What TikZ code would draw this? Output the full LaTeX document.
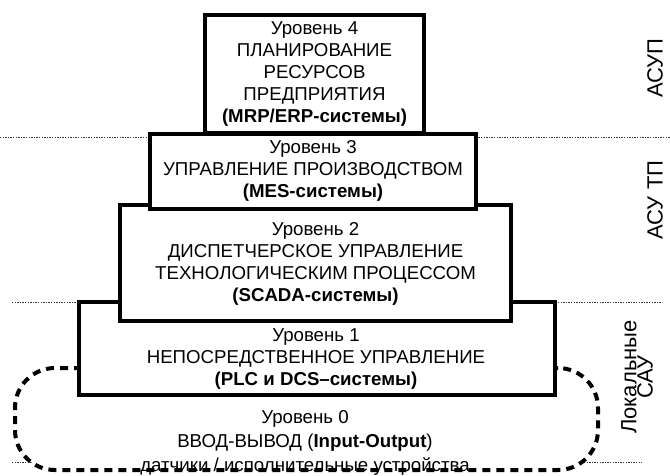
\documentclass[tikz,border=0pt]{standalone}
\usepackage{fontspec}
\setmainfont{Liberation Sans}
\newlength{\du}
\setlength{\du}{0.75pt}
\tikzset{
  levelbox/.style={draw=black, fill=white, line width=4\du, inner sep=0pt},
  zonebox/.style={draw=black, fill=white, line width=4\du, dash pattern=on 8\du off 6\du, rounded corners=40\du, inner sep=0pt},
  sepline/.style={draw=black!80, line width=1\du, dash pattern=on 1.3\du off 1.3\du},
  boxtext/.style={align=center, inner sep=0pt, font=\fontsize{14}{16.5}\selectfont},
  sidetext/.style={align=center, inner sep=0pt, rotate=90, font=\fontsize{16.5}{12.3}\selectfont},
}

\begin{document}
\begin{tikzpicture}
\pgftransformyscale{-1.000000}
\useasboundingbox (0\du,0\du) rectangle (670\du,475\du);
% separators between the systems
\draw[sepline] (0\du,137\du)--(670\du,137\du);
\draw[sepline] (12\du,302\du)--(662\du,302\du);
\draw[sepline] (12\du,462\du)--(642\du,462\du);
% level 0 zone
\node[zonebox, minimum width=583\du, minimum height=102\du] (zone0) at (306.500000\du,419.000000\du) {};
% levels, lowest first
\node[levelbox, minimum width=476\du, minimum height=93\du] (lvl1) at (317.000000\du,348.500000\du) {};
\node[levelbox, minimum width=391\du, minimum height=116\du] (lvl2) at (315.500000\du,263.000000\du) {};
\node[levelbox, minimum width=326\du, minimum height=75\du] (lvl3) at (313.000000\du,171.500000\du) {};
\node[levelbox, minimum width=219\du, minimum height=118\du] (lvl4) at (314.500000\du,74.000000\du) {};
% setfont left to latex
\node[boxtext] (txt4) at (314.500000\du,74.000000\du) {Уровень 4\\ПЛАНИРОВАНИЕ\\РЕСУРСОВ\\ПРЕДПРИЯТИЯ\\\textbf{(MRP/ERP-системы)}};
\node[boxtext] (txt3) at (313.000000\du,171.000000\du) {Уровень 3\\УПРАВЛЕНИЕ ПРОИЗВОДСТВОМ\\\textbf{(MES-системы)}};
\node[boxtext] (txt2) at (315.500000\du,264.000000\du) {Уровень 2\\ДИСПЕТЧЕРСКОЕ УПРАВЛЕНИЕ\\ТЕХНОЛОГИЧЕСКИМ ПРОЦЕССОМ\\\textbf{(SCADA-системы)}};
\node[boxtext] (txt1) at (316.000000\du,359.000000\du) {Уровень 1\\НЕПОСРЕДСТВЕННОЕ УПРАВЛЕНИЕ\\\textbf{(PLC и DCS–системы)}};
\node[boxtext, font=\fontsize{14}{18}\selectfont] (txt0) at (305.000000\du,443.000000\du) {Уровень 0\\ВВОД-ВЫВОД (\textbf{Input-Output})\\датчики / исполнительные устройства};
% setfont left to latex
\node[sidetext] (asup) at (655.000000\du,68.000000\du) {АСУП};
\node[sidetext] (asutp) at (655.000000\du,200.000000\du) {АСУ ТП};
\node[sidetext] (lsau) at (637.000000\du,377.000000\du) {Локальные\\САУ};
\end{tikzpicture}
\end{document}
